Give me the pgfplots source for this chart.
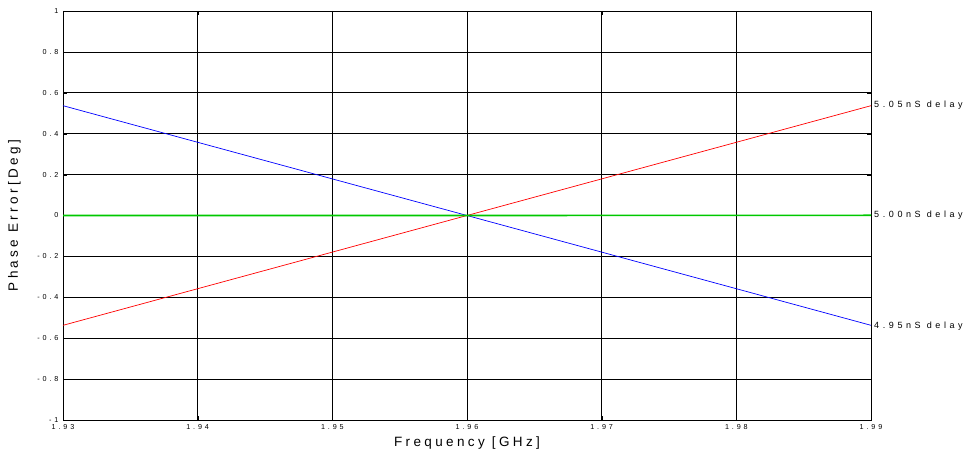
\documentclass[border=0pt]{standalone}
\usepackage{fontspec}
\setmainfont{Liberation Sans}
\usepackage{pgfplots}
\pgfplotsset{compat=1.18}
\newfontfamily\spaced[LetterSpace=25]{Liberation Sans}
\newfontfamily\spacedsmall[LetterSpace=40]{Liberation Sans}
\definecolor{mygreen}{RGB}{0,200,0}
\begin{document}
\begin{tikzpicture}[x=1pt,y=1pt]
\begin{axis}[
  set layers=standard,
  at={(63pt,36pt)}, anchor=south west,
  scale only axis, width=808pt, height=409pt,
  xmin=1.93, xmax=1.99, ymin=-1, ymax=1,
  xtick={1.93,1.94,1.95,1.96,1.97,1.98,1.99},
  ytick={-1,-0.8,-0.6,-0.4,-0.2,0,0.2,0.4,0.6,0.8,1},
  grid=major, grid style={black, line width=0.6pt},
  axis line style={black, line width=0.9pt},
  tick style={black},
  /pgf/number format/assume math mode=true,
  /pgf/number format/fixed,
  /pgf/number format/precision=2,
  xticklabel style={font=\spacedsmall\fontsize{7.2}{8}\selectfont, yshift=-1pt},
  yticklabel style={font=\spacedsmall\fontsize{7.2}{8}\selectfont, xshift=-1pt},
  xlabel={Frequency [GHz]},
  ylabel={Phase Error[Deg]},
  xlabel style={font=\spaced\fontsize{13.5}{15}\selectfont, yshift=0pt},
  ylabel style={font=\spaced\fontsize{13.5}{15}\selectfont, yshift=10pt},
  clip=false,
]
\addplot[draw=blue, line width=0.7pt] coordinates {(1.93,0.537) (1.99,-0.537)};
\addplot[draw=red, line width=0.7pt] coordinates {(1.93,-0.537) (1.99,0.537)};
\addplot[draw=mygreen, line width=1.6pt] coordinates {(1.93,0.0) (1.96,0.0) (1.99,0.001)};
\node[anchor=west, font=\spacedsmall\fontsize{9}{10}\selectfont, inner sep=3pt] at (axis cs:1.99,0.54) {5.05nS delay};
\node[anchor=west, font=\spacedsmall\fontsize{9}{10}\selectfont, inner sep=3pt] at (axis cs:1.99,0) {5.00nS delay};
\node[anchor=west, font=\spacedsmall\fontsize{9}{10}\selectfont, inner sep=3pt] at (axis cs:1.99,-0.54) {4.95nS delay};
\end{axis}
\path (0,0) rectangle (969,456);
\end{tikzpicture}
\end{document}
